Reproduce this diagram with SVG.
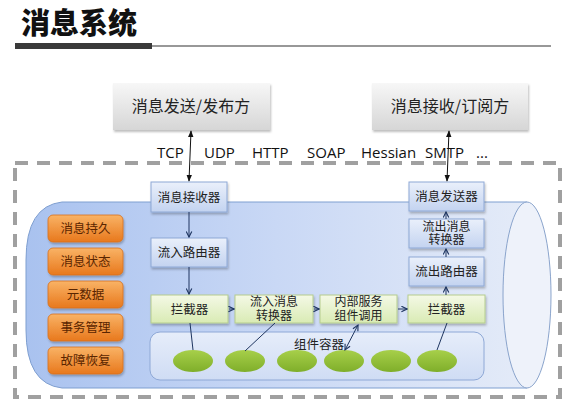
<svg xmlns="http://www.w3.org/2000/svg" width="578" height="407" viewBox="0 0 578 407">
<defs>
<style>
text{font-family:"Microsoft YaHei","Noto Sans CJK SC",sans-serif;}
.ttl{font-size:29px;font-weight:900;fill:#111;}
.top{font-size:16px;fill:#222;text-anchor:middle;}
.proto{font-family:"Open Sans","Noto Sans",sans-serif;font-size:15px;fill:#111;}
.bx{font-size:12.5px;fill:#222;text-anchor:middle;}
.bx2{font-family:"Liberation Sans","Noto Sans CJK SC",sans-serif;font-size:12px;fill:#222;text-anchor:middle;}
.ob{font-size:12.5px;fill:#5a2500;text-anchor:middle;}
.blue{fill:url(#gBlue);stroke:#8ea8d6;stroke-width:1;}
.green{fill:url(#gGreen);stroke:#b5cc8e;stroke-width:1;}
.orange{fill:url(#gOrange);stroke:#d8701c;stroke-width:0.8;}
.ell{fill:url(#gEll);}
.cn{stroke:#1e3560;stroke-width:1;fill:none;}
.cnb{stroke:#111;stroke-width:1;fill:none;}
</style>
<linearGradient id="gGray" x1="0" y1="0" x2="0" y2="1"><stop offset="0" stop-color="#f7f7f7"/><stop offset="1" stop-color="#d6d6d6"/></linearGradient>
<linearGradient id="gBlue" x1="0" y1="0" x2="0" y2="1"><stop offset="0" stop-color="#eaf0fb"/><stop offset="1" stop-color="#c3d3f0"/></linearGradient>
<linearGradient id="gGreen" x1="0" y1="0" x2="0" y2="1"><stop offset="0" stop-color="#f4f9e6"/><stop offset="1" stop-color="#d9ebb4"/></linearGradient>
<linearGradient id="gOrange" x1="0" y1="0" x2="0" y2="1"><stop offset="0" stop-color="#f9b366"/><stop offset="1" stop-color="#e8781c"/></linearGradient>
<linearGradient id="gEll" x1="0" y1="0" x2="0" y2="1"><stop offset="0" stop-color="#a7cf4a"/><stop offset="1" stop-color="#7fae2a"/></linearGradient>
<linearGradient id="gCyl" x1="0" y1="0" x2="1" y2="0"><stop offset="0" stop-color="#a9c2ef"/><stop offset="0.5" stop-color="#c9d8f5"/><stop offset="1" stop-color="#e4ebf8"/></linearGradient>
<linearGradient id="gCont" x1="0" y1="0" x2="0" y2="1"><stop offset="0" stop-color="#e6edfa"/><stop offset="1" stop-color="#cfdcf4"/></linearGradient>
<marker id="ah" viewBox="0 0 10 10" refX="9" refY="5" markerWidth="7" markerHeight="7" orient="auto-start-reverse" markerUnits="userSpaceOnUse"><path d="M1,1 L9,5 L1,9" fill="none" stroke="#1e3560" stroke-width="1.6"/></marker>
<marker id="ahk" viewBox="0 0 10 10" refX="9" refY="5" markerWidth="7" markerHeight="7" orient="auto-start-reverse" markerUnits="userSpaceOnUse"><path d="M0,1 L10,5 L0,9 Z" fill="#111"/></marker>
<filter id="sh" x="-10%" y="-10%" width="130%" height="140%"><feDropShadow dx="1" dy="2" stdDeviation="1.2" flood-color="#000" flood-opacity="0.25"/></filter>
</defs>
<rect x="0" y="0" width="578" height="407" fill="#ffffff"/>

<g id="title">
<text class="ttl" x="21" y="34">消息系统</text>
<rect x="15" y="43" width="137" height="6" fill="#3a3a3a"/>
<line x1="152" y1="46" x2="551" y2="46" stroke="#333" stroke-width="1.2"/>
</g>

<g id="publisher"><rect x="113" y="83" width="157" height="47" fill="url(#gGray)" filter="url(#sh)"/><text class="top" x="191" y="112">消息发送/发布方</text></g>
<g id="subscriber"><rect x="372" y="83" width="156" height="47" fill="url(#gGray)" filter="url(#sh)"/><text class="top" x="450" y="112">消息接收/订阅方</text></g>

<g id="protocols">
<text class="proto" x="157" y="158">TCP</text>
<text class="proto" x="204" y="158">UDP</text>
<text class="proto" x="252" y="158">HTTP</text>
<text class="proto" x="307" y="158">SOAP</text>
<text class="proto" x="361" y="158">Hessian</text>
<text class="proto" x="425" y="158">SMTP</text>
<text class="proto" x="476" y="158">...</text>
</g>

<g id="boundary"><rect x="15" y="163" width="545" height="234" fill="none" stroke="#a0a0a0" stroke-width="4" stroke-dasharray="13,9"/></g>

<g id="cylinder">
<path d="M527,202 L62,202 Q26,206 26,260 L26,330 Q26,384 62,388 L527,388 Z" fill="url(#gCyl)" stroke="#7f9fd0" stroke-width="1"/>
<ellipse cx="527" cy="295" rx="24" ry="93" fill="#eef2fa" stroke="#8aa4cc" stroke-width="1"/>
</g>

<g id="orange-list">
<g id="persist"><rect class="orange" x="48" y="215" width="75" height="27" rx="5" filter="url(#sh)"/><text class="ob" x="85.5" y="233">消息持久</text></g>
<g id="state"><rect class="orange" x="48" y="248" width="75" height="27" rx="5" filter="url(#sh)"/><text class="ob" x="85.5" y="266">消息状态</text></g>
<g id="meta"><rect class="orange" x="48" y="281" width="75" height="27" rx="5" filter="url(#sh)"/><text class="ob" x="85.5" y="299">元数据</text></g>
<g id="tx"><rect class="orange" x="48" y="314" width="75" height="27" rx="5" filter="url(#sh)"/><text class="ob" x="85.5" y="332">事务管理</text></g>
<g id="recover"><rect class="orange" x="48" y="347" width="75" height="27" rx="5" filter="url(#sh)"/><text class="ob" x="85.5" y="365">故障恢复</text></g>
</g>

<g id="container"><rect x="150" y="332" width="334" height="48" rx="10" fill="url(#gCont)" stroke="#8ea8d6" stroke-width="1"/><text class="bx" x="319" y="349">组件容器</text></g>

<g id="components">
<ellipse class="ell" cx="193" cy="361" rx="20" ry="11"/>
<ellipse class="ell" cx="245" cy="361" rx="20" ry="11"/>
<ellipse class="ell" cx="297" cy="361" rx="20" ry="11"/>
<ellipse class="ell" cx="344" cy="361" rx="20" ry="11"/>
<ellipse class="ell" cx="391" cy="361" rx="20" ry="11"/>
<ellipse class="ell" cx="437" cy="361" rx="20" ry="11"/>
</g>

<g id="receiver"><rect class="blue" x="151" y="182" width="76" height="30" filter="url(#sh)"/><text class="bx" x="189" y="202">消息接收器</text></g>
<g id="in-router"><rect class="blue" x="151" y="238" width="76" height="29" filter="url(#sh)"/><text class="bx" x="189" y="257">流入路由器</text></g>
<g id="interceptor-in"><rect class="green" x="151" y="295" width="77" height="28" filter="url(#sh)"/><text class="bx" x="189.5" y="314">拦截器</text></g>
<g id="in-converter"><rect class="green" x="235" y="295" width="78" height="28" filter="url(#sh)"/><text class="bx2" x="274" y="306"><tspan x="274">流入消息</tspan><tspan x="274" dy="13.5">转换器</tspan></text></g>
<g id="service-call"><rect class="green" x="320" y="295" width="77" height="28" filter="url(#sh)"/><text class="bx2" x="358.5" y="306"><tspan x="358.5">内部服务</tspan><tspan x="358.5" dy="13.5">组件调用</tspan></text></g>
<g id="interceptor-out"><rect class="green" x="408" y="295" width="77" height="28" filter="url(#sh)"/><text class="bx" x="446.5" y="314">拦截器</text></g>
<g id="out-router"><rect class="blue" x="409" y="257" width="75" height="29" filter="url(#sh)"/><text class="bx" x="446.5" y="276">流出路由器</text></g>
<g id="out-converter"><rect class="blue" x="409" y="219" width="75" height="29" filter="url(#sh)"/><text class="bx2" x="446.5" y="230.5"><tspan x="446.5">流出消息</tspan><tspan x="446.5" dy="13.5">转换器</tspan></text></g>
<g id="sender"><rect class="blue" x="409" y="182" width="75" height="29" filter="url(#sh)"/><text class="bx" x="446.5" y="201">消息发送器</text></g>

<g id="connectors">
<line class="cnb" x1="191" y1="131" x2="189" y2="181" marker-start="url(#ahk)" marker-end="url(#ahk)"/>
<line class="cnb" x1="449" y1="131" x2="447" y2="181" marker-start="url(#ahk)" marker-end="url(#ahk)"/>
<line class="cn" x1="189" y1="212" x2="189" y2="237" marker-end="url(#ah)"/>
<line class="cn" x1="189" y1="267" x2="189" y2="294" marker-end="url(#ah)"/>
<line class="cn" x1="229" y1="309" x2="234" y2="309" marker-end="url(#ah)"/>
<line class="cn" x1="314" y1="309" x2="319" y2="309" marker-end="url(#ah)"/>
<line class="cn" x1="398" y1="309" x2="407" y2="309" marker-end="url(#ah)"/>
<line class="cn" x1="446" y1="295" x2="446" y2="287" marker-end="url(#ah)"/>
<line class="cn" x1="446" y1="257" x2="446" y2="249" marker-end="url(#ah)"/>
<line class="cn" x1="446" y1="219" x2="446" y2="212" marker-end="url(#ah)"/>
<line class="cn" x1="190" y1="323" x2="193" y2="350"/>
<line class="cn" x1="275" y1="323" x2="245" y2="351"/>
<line class="cn" x1="358" y1="325" x2="345" y2="350" marker-start="url(#ah)" marker-end="url(#ah)"/>
<line class="cn" x1="447" y1="323" x2="437" y2="350"/>
</g>
</svg>
